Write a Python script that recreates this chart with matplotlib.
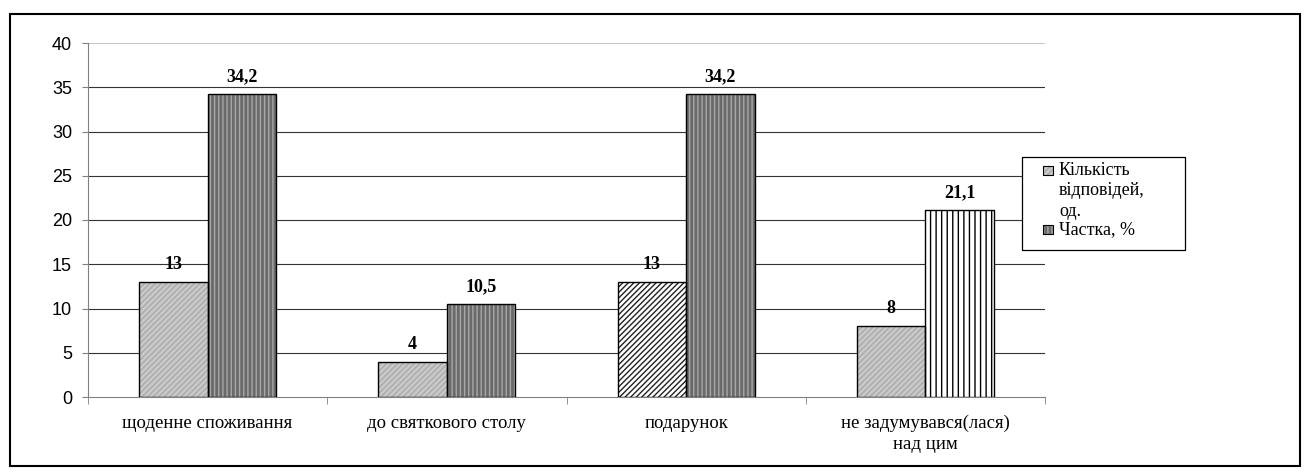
import matplotlib
matplotlib.use("Agg")
import matplotlib.pyplot as plt
import matplotlib.patches as mpatches
import numpy as np

categories = ["щоденне споживання", "до святкового столу", "подарунок",
              "не задумувався(лася)\nнад цим"]
counts = [13, 4, 13, 8]
shares = [34.2, 10.5, 34.2, 21.1]
count_labels = ["13", "4", "13", "8"]
share_labels = ["34,2", "10,5", "34,2", "21,1"]
legend_lines = [["Кількість", "відповідей,", "од."], ["Частка, %"]]
yticks = [0, 5, 10, 15, 20, 25, 30, 35, 40]

# per-bar fill styles: (face, hatch, hatch colour)
count_styles = [("#c9c9c9", "//////", "#aaaaaa"),
                ("#c9c9c9", "//////", "#aaaaaa"),
                ("#ffffff", "//////", "#222222"),
                ("#c9c9c9", "//////", "#aaaaaa")]
share_styles = [("#6a6a6a", "||||", "#a8a8a8"),
                ("#6a6a6a", "||||", "#a8a8a8"),
                ("#6a6a6a", "||||", "#a8a8a8"),
                ("#ffffff", "|||", "#000000")]

plt.rcParams["hatch.linewidth"] = 1.0
serif = "Liberation Serif"
sans = "Liberation Sans"

W, H = 1307, 472
fig = plt.figure(figsize=(W / 100, H / 100), dpi=100)
ax = fig.add_axes([88 / W, 1 - 397 / H, 957 / W, 354 / H])

x = np.arange(len(categories))
w = 0.286


def draw_bars(xpos, values, styles):
    for xi, v, (fc, hatch, hc) in zip(xpos, values, styles):
        ax.bar(xi, v, w, color=fc, hatch=hatch, edgecolor=hc, linewidth=0, zorder=3)
        ax.bar(xi, v, w, facecolor="none", edgecolor="black", linewidth=1.0, zorder=4)


draw_bars(x - w / 2, counts, count_styles)
draw_bars(x + w / 2, shares, share_styles)

for xpos, vals, labels in ((x - w / 2, counts, count_labels),
                           (x + w / 2, shares, share_labels)):
    for xi, v, t in zip(xpos, vals, labels):
        ax.annotate(t, (xi, v), xytext=(0, 6.5), textcoords="offset points",
                    ha="center", va="bottom", fontsize=13, fontweight="bold",
                    family=serif, zorder=5)

ax.set_xlim(-0.5, len(categories) - 0.5)
ax.set_ylim(0, 40)
ax.set_yticks(yticks)
ax.set_yticklabels([str(t) for t in yticks], family=sans, fontsize=13)
# horizontal gridlines; the topmost one is lighter
for t in yticks[1:]:
    ax.axhline(t, color="#c8c8c8" if t == yticks[-1] else "#333333",
               linewidth=0.8, zorder=0)

ax.set_xticks(x)
ax.set_xticklabels(categories, family=serif, fontsize=13.5, linespacing=1.3)
ax.tick_params(axis="x", length=0, pad=13)
ax.set_xticks(np.arange(len(categories) + 1) - 0.5, minor=True)
ax.tick_params(axis="x", which="minor", length=5, color="#808080", direction="out")
ax.tick_params(axis="y", length=4.5, color="#808080", pad=7)

for side in ("top", "right"):
    ax.spines[side].set_visible(False)
ax.spines["left"].set_color("#808080")
ax.spines["bottom"].set_color("#808080")


def px_rect(x0, y0, x1, y1, **kw):
    return mpatches.Rectangle((x0 / W, 1 - y1 / H), (x1 - x0) / W, (y1 - y0) / H,
                              transform=fig.transFigure, **kw)


# legend box with keys aligned to the first line of each entry
fig.patches.append(px_rect(1022, 157, 1185, 250, facecolor="white",
                           edgecolor="black", linewidth=0.9))
key_styles = [count_styles[0], share_styles[0]]
key_tops = [166, 225]
line_step = 20.5
for (fc, hatch, hc), top, lines in zip(key_styles, key_tops, legend_lines):
    fig.patches.append(px_rect(1043, top, 1053, top + 9, facecolor=fc, hatch=hatch,
                               edgecolor=hc, linewidth=0))
    fig.patches.append(px_rect(1043, top, 1053, top + 9, fill=False,
                               edgecolor="black", linewidth=0.8))
    for i, line in enumerate(lines):
        fig.text(1059 / W, 1 - (top + 4.5 + i * line_step) / H, line,
                 family=serif, fontsize=13, ha="left", va="center")

fig.patches.append(px_rect(10, 14, 1300, 466, fill=False, edgecolor="black",
                           linewidth=1.5))

fig.savefig("out.png", dpi=100)
